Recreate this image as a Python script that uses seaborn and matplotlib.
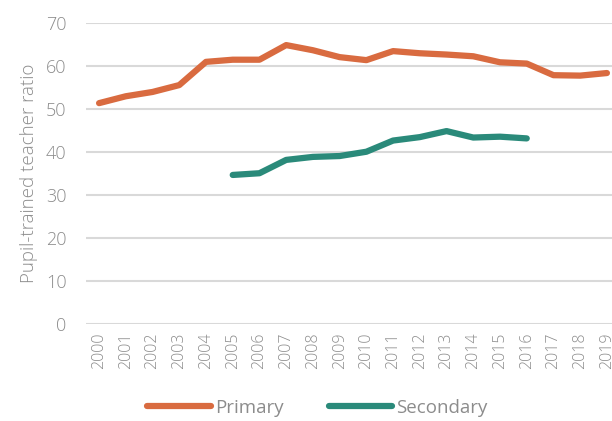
import pandas as pd
import matplotlib.pyplot as plt
import seaborn as sns

years = list(range(2000, 2020))
primary = [51.4, 53.0, 54.0, 55.6, 61.0, 61.5, 61.5, 64.9, 63.7, 62.1,
           61.4, 63.5, 63.0, 62.7, 62.3, 60.9, 60.6, 57.9, 57.8, 58.4]
sec_years = list(range(2005, 2017))
secondary = [34.7, 35.1, 38.2, 38.9, 39.1, 40.1, 42.7, 43.5, 44.9, 43.4, 43.6, 43.2]

df = pd.concat([
    pd.DataFrame({"Year": years, "Ratio": primary, "Level": "Primary"}),
    pd.DataFrame({"Year": sec_years, "Ratio": secondary, "Level": "Secondary"}),
])

sns.set_style("white")
plt.rcParams["font.family"] = ["Open Sans", "DejaVu Sans"]

grey = "#8c8c8c"
fig = plt.figure(figsize=(6.12, 4.21), dpi=100)
ax = fig.add_axes([0.1405, 0.23, 0.8595, 0.715])

sns.lineplot(data=df, x="Year", y="Ratio", hue="Level",
             palette={"Primary": "#d96b40", "Secondary": "#2a8a7a"},
             linewidth=4.5, ax=ax, solid_capstyle="round", clip_on=False)

ax.set_xlim(1999.51, 2019.19)
ax.set_ylim(0, 70)
ax.set_yticks(range(0, 71, 10))
ax.set_xticks(years)
ax.set_xticklabels([str(y) for y in years], rotation=90, fontsize=11.5, color=grey, fontweight="light")
ax.tick_params(axis="y", labelsize=13, colors=grey, length=0, pad=14)
ax.tick_params(axis="x", length=0, pad=6)
for lbl in ax.get_yticklabels():
    lbl.set_fontweight("light")
ax.yaxis.grid(True, color="#d9d9d9", linewidth=1.5)
ax.set_axisbelow(True)
sns.despine(ax=ax, left=True, bottom=True)
ax.set_xlabel("")
ax.set_ylabel("Pupil-trained teacher ratio", fontsize=13.5, color=grey, fontweight="light", labelpad=6)

leg = ax.legend(loc="upper center", bbox_to_anchor=(0.44, -0.205), ncol=2, frameon=False,
                fontsize=13.5, handlelength=3.4, columnspacing=2.4, handletextpad=0.2,
                borderpad=0.2)
for t in leg.get_texts():
    t.set_color(grey)
for h in leg.get_lines():
    h.set_linewidth(4.5)

fig.savefig("out.png", dpi=100)
